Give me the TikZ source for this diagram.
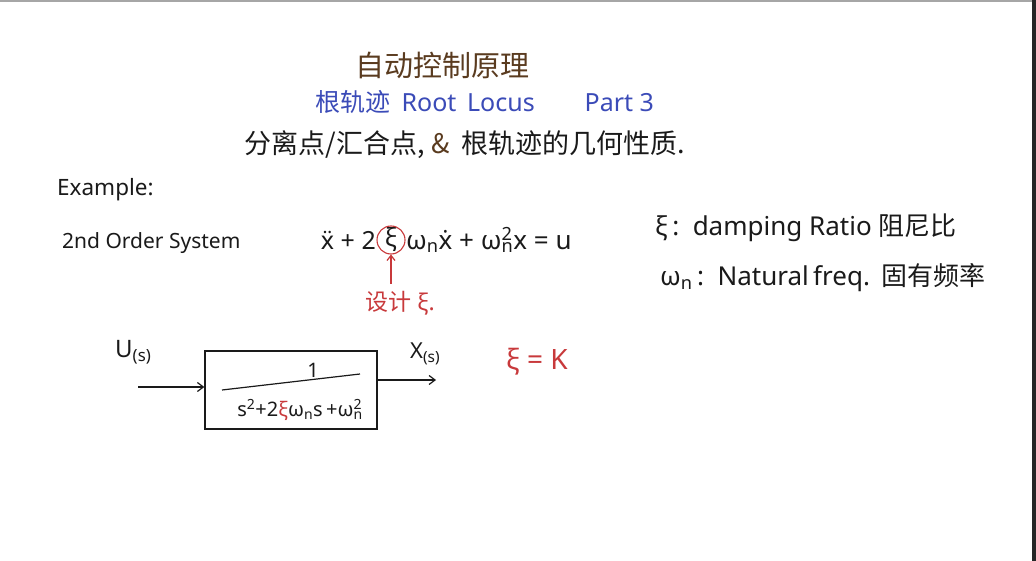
\documentclass[tikz,border=0pt]{standalone}
\usepackage{fontspec}
\setmainfont{Noto Sans}
\newfontfamily\cjk{Noto Sans CJK SC}
\usetikzlibrary{arrows.meta}
\definecolor{titlebrown}{HTML}{5A3B1F}
\definecolor{inkblue}{HTML}{3B4BB8}
\definecolor{inkred}{HTML}{C8393B}
\definecolor{ink}{HTML}{1A1A1A}
\newcommand{\supsubtxt}[2]{\rlap{\textsuperscript{#1}}\textsubscript{#2}}
\tikzset{
  txt/.style={inner sep=0pt, text=ink, font=\fontsize{21}{24}\selectfont},
  redtxt/.style={inner sep=0pt, text=inkred, font=\fontsize{21}{24}\selectfont},
  wire/.style={draw=ink, line width=1.2pt, -{Straight Barb[length=6pt,width=9pt]}},
  boxline/.style={draw=ink, line width=1.2pt},
}
\begin{document}
\begin{tikzpicture}[x=1pt,y=-1pt]
\useasboundingbox (0,0) rectangle (1036,561);
\fill[white] (0,0) rectangle (1036,561);
\fill[gray!70] (0,0) rectangle (1036,2);
\fill[black!85] (1032,0) rectangle (1036,561);
% titles
\node[inner sep=0pt, text=titlebrown, font=\cjk\fontsize{29}{32}\selectfont] (title) at (442,65) {自动控制原理};
\node[inner sep=0pt, text=inkblue, font=\fontsize{25}{28}\selectfont] (sub) at (485,102) {{\cjk 根轨迹}\ \,Root\ \,Locus\qquad Part 3};
\node[txt, font=\cjk\fontsize{27}{30}\selectfont] (topic) at (465,145) {分离点/汇合点,\ {\color{titlebrown}\&}\ \ 根轨迹的几何性质.};
% example
\node[txt, anchor=west, font=\fontsize{22.5}{26}\selectfont] (ex) at (57,190) {Example:};
\node[txt, anchor=west, font=\fontsize{21}{24}\selectfont] (sys) at (62,243) {2nd Order System};
% equation
\node[txt, anchor=east, font=\fontsize{25}{28}\selectfont] (eqA) at (376,240) {ẍ + 2};
\node[inner sep=0pt, text=ink, font=\fontsize{25}{28}\selectfont] (xi) at (391,240) {ξ};
\node[draw=inkred, line width=1.1pt, circle, minimum size=28pt, inner sep=0pt] (xicirc) at (391,240) {};
\node[txt, anchor=west, font=\fontsize{26}{28}\selectfont] (eqB) at (406,240) {ω\textsubscript{n}ẋ + ω\supsubtxt{2}{n}x\ =\ u};
\node[redtxt, anchor=north, font=\fontsize{23}{26}\selectfont] (design) at (400,291) {{\cjk 设计}\ ξ.};
\coordinate (dstart) at (391,284);
\draw[draw=inkred, line width=1.2pt, -{Straight Barb[length=5pt,width=8pt]}] (dstart) -- (xicirc.south);
% definitions
\node[txt, anchor=west, font=\fontsize{26}{30}\selectfont] (def1) at (655,228) {ξ\,:\ \ damping\ Ratio\ {\cjk 阻尼比}};
\node[txt, anchor=west, font=\fontsize{26}{30}\selectfont] (def2) at (660,278) {ω\textsubscript{n}\,:\ \ Natural\,freq.\ \,{\cjk 固有频率}};
% block diagram
\node[txt, anchor=west, font=\fontsize{24}{26}\selectfont] (U) at (115,352) {U\textsubscript{(s)}};
\node[draw=ink, line width=1.2pt, minimum width=172pt, minimum height=78pt, inner sep=0pt] (blk) at (291,390) {};
\coordinate (inL) at (138,387);
\draw[wire] (inL) -- (inL -| blk.west);
\node[txt, font=\fontsize{20}{22}\selectfont] (num) at (313,370) {1};
\draw[boxline] (222,390) -- (360,374);
\node[txt, font=\fontsize{20}{22}\selectfont] (den) at (300,410) {s\textsuperscript{2}+2{\color{inkred}ξ}ω\textsubscript{n}s\,+ω\supsubtxt{2}{n}};
\coordinate (outR) at (436,380);
\draw[wire] (blk.east |- outR) -- (outR);
\node[txt, anchor=west, font=\fontsize{22}{24}\selectfont] (X) at (410,354) {X\textsubscript{(s)}};
\node[redtxt, font=\fontsize{28}{30}\selectfont] (xik) at (537,362) {ξ = K};
\end{tikzpicture}
\end{document}
